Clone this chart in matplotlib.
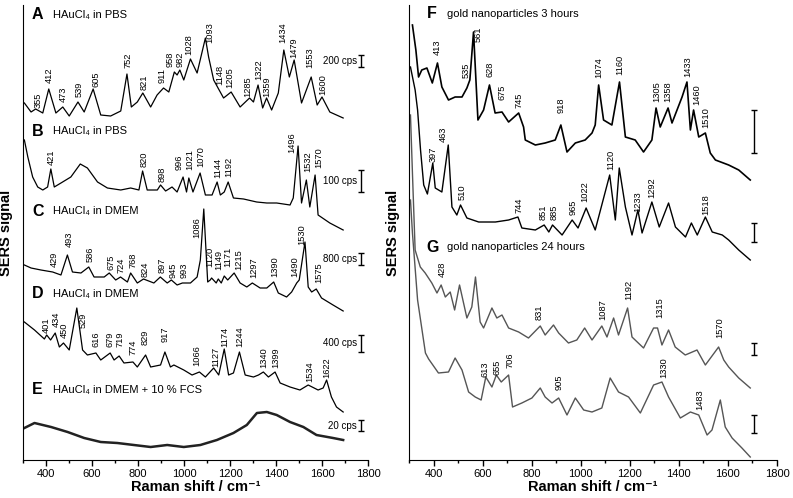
import matplotlib
matplotlib.use("Agg")
import matplotlib.pyplot as plt
from matplotlib.ticker import MultipleLocator

plt.rcParams['font.family'] = ['Liberation Sans', 'DejaVu Sans']

# signals are in offset arbitrary units (stacked traces)
# --- left panel: HAuCl4 solutions ---
A_shift = [306, 335, 355, 386, 412, 443, 473, 501, 539, 566, 605, 638, 681, 725, 752, 771, 797,
           821, 855, 883, 911, 934, 958, 970, 982, 999, 1028, 1057, 1093, 1107, 1129, 1148, 1172,
           1205, 1244, 1285, 1302, 1322, 1342, 1359, 1381, 1410, 1434, 1458, 1479, 1511, 1553,
           1579, 1600, 1634, 1692]
A_sig = [356, 347, 350, 346, 370, 346, 352, 343, 357, 347, 370, 344, 343, 348, 385, 352, 357,
         366, 352, 364, 371, 367, 387, 384, 389, 379, 400, 386, 421, 402, 379, 371, 361,
         367, 352, 361, 357, 374, 351, 361, 349, 366, 409, 382, 399, 356, 382,
         354, 362, 347, 341]

B_shift = [306, 321, 342, 364, 386, 407, 421, 436, 465, 508, 549, 580, 624, 667, 725, 768, 804,
           820, 840, 884, 898, 920, 948, 970, 996, 1011, 1021, 1039, 1070, 1093, 1122, 1144,
           1158, 1175, 1192, 1215, 1259, 1316, 1360, 1403, 1461, 1475, 1496, 1511, 1532, 1547,
           1570, 1583, 1634, 1692]
B_sig = [319, 302, 282, 272, 269, 272, 290, 272, 276, 282, 295, 291, 277, 271, 269, 271, 269,
         288, 269, 269, 274, 268, 272, 267, 282, 267, 281, 267, 286, 264, 264, 277,
         264, 267, 277, 261, 260, 257, 256, 256, 254, 261, 313, 256, 279, 252,
         284, 244, 236, 229]

C_shift = [306, 335, 378, 429, 465, 493, 515, 552, 586, 609, 653, 675, 703, 724, 754, 768, 797,
           824, 869, 897, 927, 945, 970, 993, 1028, 1057, 1071, 1086, 1103, 1114, 1120, 1140,
           1149, 1162, 1175, 1190, 1218, 1244, 1273, 1297, 1331, 1360, 1390, 1410, 1446, 1468,
           1490, 1501, 1526, 1540, 1555, 1575, 1598, 1648, 1692]
C_sig = [194, 191, 189, 187, 184, 204, 187, 186, 192, 182, 182, 186, 179, 182, 177, 186, 176,
         180, 176, 182, 176, 179, 174, 176, 176, 182, 199, 250, 177, 179, 181, 176,
         180, 176, 183, 179, 186, 176, 172, 176, 171, 171, 177, 166, 162, 167,
         176, 179, 217, 172, 167, 170, 161, 154, 148]

D_shift = [306, 350, 393, 403, 420, 440, 458, 476, 501, 534, 559, 580, 617, 638, 679, 696, 718,
           739, 778, 797, 833, 855, 898, 917, 941, 956, 999, 1035, 1067, 1093, 1129, 1151, 1175,
           1194, 1215, 1241, 1266, 1302, 1324, 1345, 1367, 1396, 1418, 1461, 1504, 1540, 1583,
           1605, 1620, 1641, 1663, 1692]
D_sig = [137, 129, 120, 124, 119, 126, 112, 116, 109, 151, 109, 104, 106, 99, 106, 99, 103,
         96, 97, 92, 104, 92, 94, 107, 92, 94, 89, 84, 87, 82, 91, 84, 110,
         84, 86, 107, 84, 82, 84, 87, 82, 87, 76, 72, 69, 74, 69,
         71, 79, 62, 52, 47]

E_shift = [306, 350, 422, 494, 566, 638, 710, 782, 855, 927, 999, 1071, 1143, 1215, 1273, 1317,
           1360, 1403, 1461, 1519, 1576, 1648, 1692]
E_sig = [31, 36, 32, 27, 21, 17, 16, 14, 12, 14, 12, 14, 19, 26, 34, 46,
         47, 44, 37, 32, 24, 21, 19]

# --- right panel: gold nanoparticles ---
F1_shift = [314, 328, 339, 352, 373, 395, 416, 434, 461, 488, 516, 536, 548, 563, 581, 604, 628,
            651, 679, 706, 747, 767, 774, 815, 855, 896, 919, 944, 978, 1018, 1046, 1059, 1073,
            1093, 1127, 1158, 1182, 1222, 1256, 1290, 1307, 1324, 1356, 1372, 1413, 1433, 1447,
            1460, 1481, 1508, 1528, 1549, 1603, 1644, 1691]
F1_sig = [435, 410, 383, 390, 392, 377, 397, 373, 360, 363, 363, 372, 380, 428, 340, 350, 375,
          347, 348, 338, 347, 333, 320, 315, 317, 320, 335, 308, 317, 320, 327, 335, 375,
          340, 335, 378, 323, 320, 308, 320, 352, 333, 352, 337, 363, 378, 330,
          350, 323, 327, 307, 300, 295, 290, 280]

F2_shift = [306, 325, 335, 347, 360, 375, 397, 407, 434, 460, 475, 495, 510, 536, 584, 652, 706,
            744, 760, 815, 851, 870, 885, 924, 965, 989, 1022, 1059, 1118, 1141, 1157, 1182,
            1209, 1233, 1250, 1290, 1320, 1358, 1386, 1427, 1451, 1475, 1508, 1536, 1577, 1603,
            1644, 1691]
F2_sig = [393, 370, 350, 310, 275, 266, 297, 272, 268, 315, 253, 245, 255, 242, 238, 238, 240,
          243, 232, 230, 235, 228, 235, 225, 240, 232, 252, 230, 285, 240, 292, 253,
          225, 250, 227, 258, 233, 257, 233, 223, 237, 225, 243, 228, 225, 220,
          210, 200]

G1_shift = [306, 315, 325, 346, 366, 393, 414, 431, 448, 468, 486, 506, 536, 556, 571, 590, 604,
            638, 658, 679, 706, 747, 787, 835, 855, 889, 910, 950, 984, 1016, 1046, 1086, 1107,
            1134, 1154, 1191, 1209, 1256, 1297, 1313, 1331, 1358, 1385, 1426, 1474, 1508, 1562,
            1583, 1603, 1644, 1691]
G1_sig = [345, 280, 210, 193, 187, 177, 167, 175, 163, 168, 150, 175, 142, 153, 183, 138, 132,
          152, 142, 145, 132, 128, 122, 134, 125, 135, 127, 117, 120, 132, 120, 134, 123,
          142, 125, 152, 123, 112, 132, 132, 115, 130, 113, 105, 110, 95, 113,
          100, 93, 82, 72]

G2_shift = [306, 314, 335, 367, 380, 420, 461, 488, 516, 543, 570, 594, 613, 638, 656, 676, 706,
            722, 760, 801, 835, 855, 883, 910, 944, 978, 1012, 1046, 1086, 1120, 1154, 1195,
            1243, 1297, 1331, 1358, 1406, 1447, 1481, 1515, 1535, 1569, 1589, 1617, 1657, 1691]
G2_sig = [260, 227, 160, 107, 101, 87, 88, 102, 90, 68, 63, 60, 83, 73, 85, 78, 85,
          53, 57, 62, 72, 63, 57, 62, 45, 62, 50, 48, 52, 82, 68, 63,
          47, 75, 78, 63, 42, 48, 45, 25, 30, 60, 33, 22, 12, 3]

# peak labels: (text, shift, height of label bottom)
A_labels = [("355", 364, 351), ("412", 412, 376), ("473", 476, 357), ("539", 544, 362),
            ("605", 616, 372), ("752", 758, 391), ("821", 826, 369), ("911", 906, 376),
            ("958", 941, 392), ("982", 981, 392), ("1028", 1021, 404), ("1093", 1112, 416),
            ("1148", 1155, 374), ("1205", 1201, 371), ("1285", 1276, 362), ("1322", 1324, 379),
            ("1359", 1360, 362), ("1434", 1429, 416), ("1479", 1478, 401), ("1553", 1547, 391),
            ("1600", 1602, 364)]
B_labels = [("421", 425, 294), ("820", 826, 292), ("898", 905, 277), ("996", 980, 289),
            ("1021", 1026, 289), ("1070", 1075, 292), ("1144", 1146, 281), ("1192", 1194, 282),
            ("1496", 1468, 306), ("1532", 1540, 287), ("1570", 1584, 291)]
C_labels = [("429", 436, 192), ("493", 501, 212), ("586", 591, 197), ("675", 684, 189),
            ("724", 728, 186), ("768", 780, 191), ("824", 829, 182), ("897", 905, 186),
            ("945", 951, 181), ("993", 1002, 181), ("1086", 1057, 221), ("1120", 1112, 192),
            ("1149", 1153, 189), ("1171", 1192, 192), ("1215", 1237, 189), ("1297", 1302, 181),
            ("1390", 1396, 182), ("1490", 1480, 182), ("1530", 1511, 214), ("1575", 1584, 176)]
D_labels = [("401", 403, 126), ("434", 443, 132), ("450", 479, 121), ("529", 560, 131),
            ("616", 616, 112), ("679", 679, 112), ("719", 722, 112), ("774", 780, 104),
            ("829", 829, 114), ("917", 920, 117), ("1066", 1057, 93), ("1127", 1136, 92),
            ("1174", 1179, 112), ("1244", 1241, 112), ("1340", 1345, 91), ("1399", 1400, 91),
            ("1534", 1545, 77), ("1622", 1620, 81)]
F1_labels = [("413", 416, 405), ("535", 533, 382), ("561", 583, 418), ("628", 631, 383),
             ("675", 679, 360), ("745", 747, 352), ("918", 919, 347), ("1074", 1073, 382),
             ("1160", 1158, 385), ("1305", 1308, 358), ("1358", 1356, 358), ("1433", 1436, 383),
             ("1460", 1471, 355), ("1510", 1508, 332)]
F2_labels = [("397", 397, 298), ("463", 441, 318), ("510", 516, 260), ("744", 747, 247),
             ("851", 846, 240), ("885", 893, 240), ("965", 971, 245), ("1022", 1018, 258),
             ("1120", 1124, 290), ("1233", 1233, 248), ("1292", 1290, 262), ("1518", 1510, 245)]
G1_labels = [("428", 437, 183), ("831", 832, 140), ("1087", 1089, 140), ("1192", 1195, 160),
             ("1315", 1322, 142), ("1570", 1565, 122)]
G2_labels = [("613", 608, 83), ("655", 658, 85), ("706", 710, 92), ("905", 912, 70),
             ("1330", 1338, 82), ("1483", 1487, 50)]

# panel titles: (letter, title, height)
left_titles = [("A", "HAuCl₄ in PBS", 444), ("B", "HAuCl₄ in PBS", 328),
               ("C", "HAuCl₄ in DMEM", 248), ("D", "HAuCl₄ in DMEM", 165),
               ("E", "HAuCl₄ in DMEM + 10 % FCS", 69)]
right_titles = [("F", "gold nanoparticles 3 hours", 446), ("G", "gold nanoparticles 24 hours", 213)]

# intensity scale bars: (label, low, high)
left_bars = [("200 cps", 392, 404), ("100 cps", 267, 289), ("800 cps", 194, 206),
             ("400 cps", 107, 124), ("20 cps", 28, 39)]
right_bars = [("", 307, 350), ("", 218, 237), ("", 105, 117), ("", 27, 45)]

fig = plt.figure(figsize=(7.93, 4.98), dpi=100)
axL = fig.add_axes([23 / 793, 38 / 498, 345 / 793, 455 / 498])
axR = fig.add_axes([409 / 793, 38 / 498, 368 / 793, 455 / 498])


def label_peaks(ax, labels, color='black'):
    for txt, x, y in labels:
        ax.text(x, y, txt, rotation=90, ha='center', va='bottom', fontsize=6.7, color=color)


def scale_bars(ax, bars, x):
    for txt, lo, hi in bars:
        ax.errorbar([x], [(lo + hi) / 2], yerr=[(hi - lo) / 2], color='black', lw=1,
                    capsize=2, capthick=1)
        if txt:
            ax.text(x - 20, (lo + hi) / 2, txt, ha='right', va='center', fontsize=7)


# left
for s, y in [(A_shift, A_sig), (B_shift, B_sig), (C_shift, C_sig), (D_shift, D_sig)]:
    axL.plot(s, y, color='black', lw=0.9)
axL.plot(E_shift, E_sig, color='#222222', lw=1.8)
for labs in [A_labels, B_labels, C_labels, D_labels]:
    label_peaks(axL, labs)
for letter, title, y in left_titles:
    axL.text(339, y, letter, fontsize=11.5, fontweight='bold', ha='left', va='center')
    axL.text(430, y, title, fontsize=8, ha='left', va='center')
scale_bars(axL, left_bars, 1771)
axL.set_ylim(-1, 454)

# right
axR.plot(F1_shift, F1_sig, color='black', lw=1.2)
axR.plot(F2_shift, F2_sig, color='black', lw=1.0)
axR.plot(G1_shift, G1_sig, color='#555555', lw=1.0)
axR.plot(G2_shift, G2_sig, color='#555555', lw=1.0)
label_peaks(axR, F1_labels)
label_peaks(axR, F2_labels)
label_peaks(axR, G1_labels)
label_peaks(axR, G2_labels)
for letter, title, y in right_titles:
    axR.text(372, y, letter, fontsize=11.5, fontweight='bold', ha='left', va='center')
    axR.text(453, y, title, fontsize=8, ha='left', va='center')
scale_bars(axR, right_bars, 1705)
axR.set_ylim(0, 455)

for ax, lx in [(axL, -0.03), (axR, -0.025)]:
    ax.set_xlim(300, 1800)
    ax.xaxis.set_major_locator(MultipleLocator(200))
    ax.xaxis.set_minor_locator(MultipleLocator(100))
    ax.tick_params(axis='x', which='major', direction='out', length=4, width=1,
                   labelsize=8, pad=2.5)
    ax.tick_params(axis='x', which='minor', direction='out', length=2.5, width=1)
    ax.set_yticks([])
    ax.spines['top'].set_visible(False)
    ax.spines['right'].set_visible(False)
    ax.set_xlabel('Raman shift / cm⁻¹', fontsize=10.5, fontweight='bold', labelpad=1)
    ax.set_ylabel('SERS signal', fontsize=10.5, fontweight='bold')
    ax.yaxis.set_label_coords(lx, 0.5)

fig.savefig('out.png', dpi=100)
